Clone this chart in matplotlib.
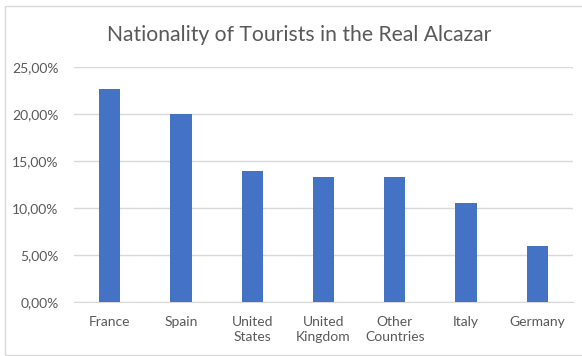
import matplotlib.pyplot as plt
from matplotlib.patches import Rectangle
from matplotlib.ticker import FuncFormatter

countries = ['France', 'Spain', 'United\nStates', 'United\nKingdom', 'Other\nCountries', 'Italy', 'Germany']
shares = [22.6, 19.95, 13.9, 13.3, 13.3, 10.55, 6.0]

plt.rcParams['font.family'] = ['Lato', 'DejaVu Sans']

fig = plt.figure(figsize=(5.82, 3.56), dpi=100)
ax = fig.add_axes([74/582, 1-302/356, (573-74)/582, (302-66.7)/356])

ax.bar(range(len(countries)), shares, width=0.30, color='#4472C4', zorder=3)

ax.set_xlim(-0.5, len(countries)-0.5)
ax.set_ylim(0, 25)
ax.set_yticks([0, 5, 10, 15, 20, 25])
ax.yaxis.set_major_formatter(FuncFormatter(lambda v, p: f'{v:.2f}%'.replace('.', ',')))
ax.set_xticks(range(len(countries)))
ax.set_xticklabels(countries, linespacing=1.3)

ax.grid(axis='y', color='#d9d9d9', linewidth=1, zorder=0)
for s in ['top', 'right', 'left']:
    ax.spines[s].set_visible(False)
ax.spines['bottom'].set_color('#d9d9d9')
ax.tick_params(axis='both', length=0, colors='#595959', labelsize=10)
ax.tick_params(axis='y', pad=11)
ax.tick_params(axis='x', pad=10)

fig.text(299/582, 1-35/356, 'Nationality of Tourists in the Real Alcazar',
         ha='center', va='center', fontsize=15.2, color='#595959')

# outer chart frame
fig.patches.append(Rectangle((5/582, 1/356), 1, 1-7/356, transform=fig.transFigure,
                             fill=False, edgecolor='#d9d9d9', linewidth=1))

fig.savefig('out.png', dpi=100)
